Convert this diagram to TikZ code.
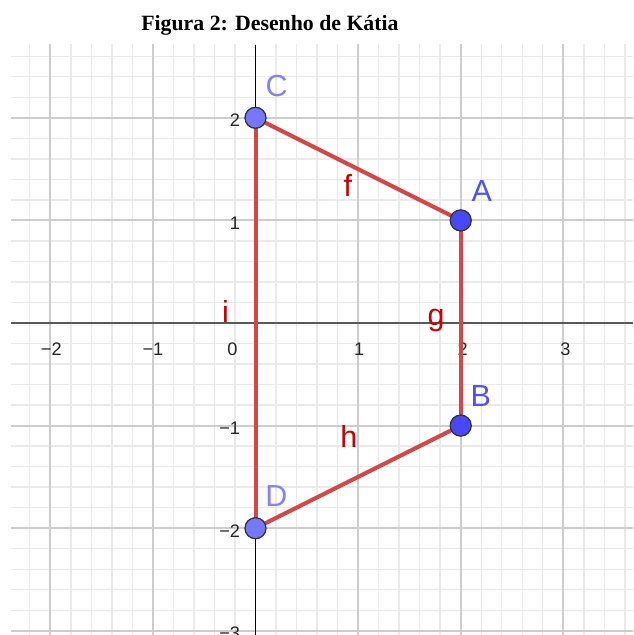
\documentclass[tikz,border=0pt]{standalone}
\usepackage{fontspec}
\setmainfont{Liberation Serif}
\newfontfamily\gsans{Liberation Sans}
\definecolor{seg}{RGB}{214,70,70}
\definecolor{lblred}{RGB}{204,0,0}
\definecolor{ptAB}{RGB}{72,72,250}
\definecolor{ptCD}{RGB}{118,118,255}
\definecolor{lblAB}{RGB}{80,80,255}
\definecolor{lblCD}{RGB}{130,130,255}
\definecolor{majgrid}{RGB}{205,205,205}
\definecolor{mingrid}{RGB}{234,234,234}
\tikzset{
  tick/.style={font=\gsans\fontsize{15.5}{16}\selectfont, text=black!85, inner sep=0pt},
  ptlabel/.style={font=\gsans\fontsize{26}{27}\selectfont, inner sep=0pt, anchor=base},
  seglabel/.style={font=\gsans\fontsize{26}{27}\selectfont, text=lblred, inner sep=0pt, anchor=base},
  segline/.style={draw=seg, line width=3.4pt},
  ptdot/.style={circle, minimum size=0.205cm*3.078, inner sep=0pt, draw=black!80, line width=1.1pt}
}
\begin{document}
\begin{tikzpicture}[x=3.078cm, y=3.078cm]
\useasboundingbox (-2.4903,-3.0409) rectangle (3.6793,3.1481);
\fill[white] (-2.4903,-3.0409) rectangle (3.6793,3.1481);
% grid
\begin{scope}
\clip (-2.383,-3.0409) rectangle (3.6793,2.71);
\draw[mingrid, line width=1.2pt, step=0.2] (-2.6,-3.2) grid (3.8,2.8);
\draw[majgrid, line width=1.6pt, step=1] (-3,-4) grid (4,3);
\end{scope}
% axes
\draw[black!65, line width=1.9pt] (-2.383,0) -- (3.6793,0);
\draw[black, line width=1.3pt] (0,-3.0409) -- (0,2.71);
% tick labels
\node[tick, anchor=base] (tx-2) at (-1.99,-0.312) {−2};
\node[tick, anchor=base] (tx-1) at (-1.00,-0.312) {−1};
\node[tick, anchor=base] (tx0) at (-0.224,-0.312) {0};
\node[tick, anchor=base] (tx1) at (1.01,-0.312) {1};
\node[tick, anchor=base] (tx2) at (2.02,-0.312) {2};
\node[tick, anchor=base] (tx3) at (3.02,-0.312) {3};
\node[tick, anchor=base east] (ty2) at (-0.148,1.913) {2};
\node[tick, anchor=base east] (ty1) at (-0.148,0.913) {1};
\node[tick, anchor=base east] (ty-1) at (-0.148,-1.087) {−1};
\node[tick, anchor=base east] (ty-2) at (-0.148,-2.087) {−2};
\node[tick, anchor=base east] (ty-3) at (-0.148,-3.087) {−3};
% points
\coordinate (A) at (2,1);
\coordinate (B) at (2,-1);
\coordinate (C) at (0,2);
\coordinate (D) at (0,-2);
% segments
\draw[segline] (C) -- (A);
\draw[segline] (A) -- (B);
\draw[segline] (B) -- (D);
\draw[segline] (D) -- (C);
\node[ptdot, fill=ptCD] (pC) at (C) {};
\node[ptdot, fill=ptAB] (pA) at (A) {};
\node[ptdot, fill=ptAB] (pB) at (B) {};
\node[ptdot, fill=ptCD] (pD) at (D) {};
% labels
\node[ptlabel, text=lblCD] (lC) at (0.207,2.206) {C};
\node[ptlabel, text=lblAB] (lA) at (2.205,1.182) {A};
\node[ptlabel, text=lblAB] (lB) at (2.195,-0.816) {B};
\node[ptlabel, text=lblCD] (lD) at (0.203,-1.79) {D};
\node[seglabel] (lf) at (0.90,1.231) {f};
\node[seglabel] (lg) at (1.76,-0.02) {g};
\node[seglabel] (lh) at (0.91,-1.209) {h};
\node[seglabel] (li) at (-0.292,0.0) {i};
% title
\node[font=\bfseries\fontsize{18.6}{20}\selectfont, inner sep=0pt] (title) at (0.141,2.904) {Figura 2: Desenho de Kátia};
\end{tikzpicture}
\end{document}
